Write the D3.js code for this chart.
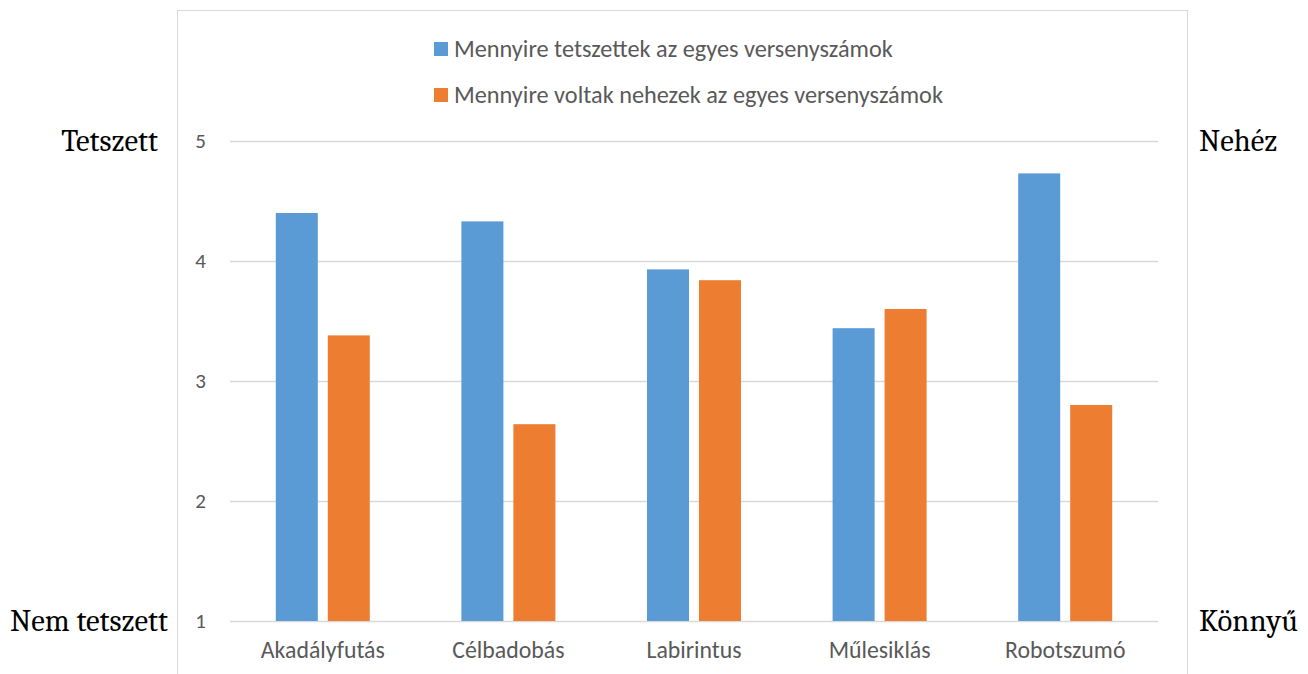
<!DOCTYPE html>
<html><head><meta charset="utf-8">
<script src="https://cdn.jsdelivr.net/npm/d3@7"></script>
<style>body{margin:0;background:#fff}svg{display:block}</style>
</head><body>
<svg id="c" width="1308" height="674"></svg>
<script>
const categories = ["Akadályfutás","Célbadobás","Labirintus","Műlesiklás","Robotszumó"];
const seriesNames = ["Mennyire tetszettek az egyes versenyszámok","Mennyire voltak nehezek az egyes versenyszámok"];
const likedValues = [4.40, 4.33, 3.93, 3.44, 4.73];
const difficultyValues = [3.38, 2.64, 3.84, 3.60, 2.80];
const yTicks = [1,2,3,4,5];
const leftLabels = ["Tetszett","Nem tetszett"];
const rightLabels = ["Nehéz","Könnyű"];
const colors = ["#5b9bd5","#ed7d31"];

const svg = d3.select("#c");
const sansFont = "Carlito, Calibri, 'Open Sans', 'Noto Sans', sans-serif";
const serifFont = "Caladea, Cambria, 'DejaVu Serif', 'Liberation Serif', serif";

function fitWidth(sel, target){
  sel.each(function(){
    const fs = parseFloat(this.style.fontSize);
    const w = this.getComputedTextLength();
    if (w>0) this.style.fontSize = (fs*target/w).toFixed(2)+"px";
  });
}

svg.append("rect").attr("x",177.5).attr("y",10.5).attr("width",1010).attr("height",700)
  .attr("fill","#fff").attr("stroke","#d9d9d9").attr("stroke-width",1);

const y = d3.scaleLinear().domain([1,5]).range([621,141]);
const x0 = d3.scaleBand().domain(categories).range([230,1158]).paddingInner(0.4935).paddingOuter(0.4935/2);
const x1 = d3.scaleBand().domain([0,1]).range([0,x0.bandwidth()]).paddingInner(0.192).paddingOuter(0);

const yAxis = d3.axisLeft(y).tickValues(yTicks).tickSize(-(1158-230)).tickFormat(d3.format("d")).tickPadding(24);
const gy = svg.append("g").attr("transform","translate(230,0)").call(yAxis);
gy.select(".domain").remove();
gy.selectAll(".tick line").attr("stroke","#d9d9d9").attr("stroke-width",1.5);
gy.selectAll(".tick text").attr("fill","#595959").style("font-family",sansFont).style("font-size","21px");

const data = categories.map((c,i)=>({c, vals:[likedValues[i], difficultyValues[i]]}));
const groups = svg.append("g").selectAll("g").data(data).join("g")
  .attr("transform",d=>`translate(${x0(d.c)},0)`);
groups.selectAll("rect").data(d=>d.vals.map((v,k)=>({v,k}))).join("rect")
  .attr("x",d=>x1(d.k)).attr("width",x1.bandwidth())
  .attr("y",d=>y(d.v)).attr("height",d=>y(1)-y(d.v))
  .attr("fill",d=>colors[d.k]);

const xAxis = d3.axisBottom(x0).tickSize(0).tickPadding(20);
const gx = svg.append("g").attr("transform","translate(0,621)").call(xAxis);
gx.select(".domain").remove();
const catText = gx.selectAll(".tick text").attr("fill","#595959").style("font-family",sansFont).style("font-size","20px");
fitWidth(catText.filter(d=>d==="Akadályfutás"), 124);
const catFs = gx.selectAll(".tick text").filter(d=>d==="Akadályfutás").style("font-size");
catText.style("font-size",catFs);

const leg = svg.append("g");
seriesNames.forEach((s,i)=>{
  const yy = 49 + i*46;
  leg.append("rect").attr("x",434).attr("y",yy-7).attr("width",14).attr("height",14).attr("fill",colors[i]);
  const t = leg.append("text").attr("x",454).attr("y",yy).attr("dy","0.35em").text(s)
    .attr("fill","#595959").style("font-family",sansFont).style("font-size","20px");
  if (i===0) fitWidth(t, 439);
});
const legFs = leg.select("text").style("font-size");
leg.selectAll("text").style("font-size",legFs);

const sideY = [y(5), y(1)];
const left = svg.append("g"), right = svg.append("g");
leftLabels.forEach((t,i)=>{
  left.append("text").attr("x", i===0?158:168).attr("y",sideY[i]).attr("dy","0.32em").attr("text-anchor","end")
    .text(t).attr("fill","#000").style("font-family",serifFont).style("font-size","26px");
});
rightLabels.forEach((t,i)=>{
  right.append("text").attr("x",1199).attr("y",sideY[i]).attr("dy","0.32em").attr("text-anchor","start")
    .text(t).attr("fill","#000").style("font-family",serifFont).style("font-size","26px");
});
fitWidth(left.selectAll("text").filter(function(){return this.textContent==="Nem tetszett";}), 158);
const sFs = left.selectAll("text").filter(function(){return this.textContent==="Nem tetszett";}).style("font-size");
svg.selectAll("text").filter(function(){return leftLabels.includes(this.textContent)||rightLabels.includes(this.textContent);}).style("font-size",sFs);
</script>
</body></html>
